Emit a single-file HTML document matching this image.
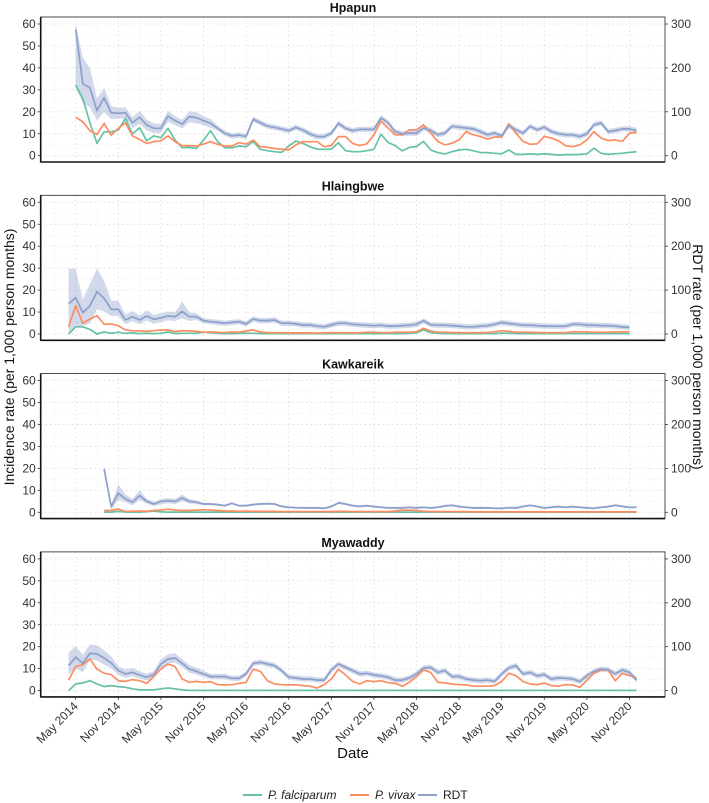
<!DOCTYPE html>
<html><head><meta charset="utf-8"><style>
html,body{margin:0;padding:0;background:#fff;}
svg{display:block;font-family:"Liberation Sans",Arial,sans-serif;}
</style></head><body>
<svg id="chart" width="709" height="803" viewBox="0 0 709 803" xmlns="http://www.w3.org/2000/svg"></svg>
<script>
// ---- data ----
const panelNames = ["Hpapun","Hlaingbwe","Kawkareik","Myawaddy"];
const xTickLabels = ["May 2014","Nov 2014","May 2015","Nov 2015","May 2016","Nov 2016","May 2017","Nov 2017","May 2018","Nov 2018","May 2019","Nov 2019","May 2020","Nov 2020"];
const yTickLeft = [0,10,20,30,40,50,60];
const yTickRight = [0,100,200,300];
// start month index (months since Jan 2014)
const panelStart = [4,3,8,3];
// Hpapun
const hpRdt = [57.6,32.7,31,20.5,26.4,19.6,19.3,19.6,15,17.5,14,12.5,12.5,18,16,14.4,17.8,17.3,16,14.7,12.5,10.2,9,9.4,8.7,16.6,15,13.5,12.9,12.2,11.4,12.9,11.7,9.9,8.7,8.7,10.2,14.7,12.5,11.4,
 12,12,12,17.2,15,11,10,10.3,10.3,12.6,11.5,9.5,10.3,13.4,13,12.6,12.2,11,9.5,10.3,9,13.7,11.8,10.3,13.4,11.8,13,11,10,9.5,9.5,8.7,10,14.1,14.9,11,11.5,12.2,12.2,11.5];
const hpViv = [17.5,15.5,11.4,9.7,14.7,9.4,12.5,15,9,7.4,5.6,6.4,6.8,9,6.4,4.6,4.6,4.4,5.3,6.4,5.2,4.4,4.4,5.9,5.3,7.1,4.1,3.8,3.3,3,2.6,4.9,6.4,6.4,6.4,4.1,4.6,8.7,8.7,5.6,
 4.6,5.4,9.5,15.7,12.6,9.5,9.5,11.8,11.8,14.1,10.3,6.5,4.9,5.7,7.2,11,9.5,8.8,7.5,8.5,8.5,14.6,10.3,6.5,5.2,5.4,8.8,8,6.8,4.5,4.2,4.9,7.2,11,8,6.9,7.2,6.5,10.3,10.6];
const hpFal = [32.2,26.1,15,5.6,10.9,10.9,11.7,17,9.9,12.8,6.8,9,8.2,12.5,7.1,3.6,3.8,3.3,7.1,11.4,6.4,3.6,3.6,4.4,4.1,6.4,2.9,2.3,1.8,1.5,4.4,6.7,5.6,4.1,3,2.9,3,5.9,2.3,1.8,
 1.8,2.3,2.9,9.8,6,4.6,2.2,3.8,4.2,6.5,2.6,1.4,0.8,1.8,2.6,2.9,2.3,1.4,1.4,1.1,0.8,2.6,0.6,0.6,0.8,0.6,0.8,0.6,0.3,0.5,0.5,0.6,0.8,3.4,1.1,0.6,0.9,1.1,1.5,1.8];
const hpBandUp = [2.5,12,9,5.5,4.5,3,2.5,2.5,2.5,3,2.5,2.2,2,2.5,2,2,2.5,2.5,2,2];
const hpBandDn = [27,8.7,9,4.5,6.4,3,2.5,2.5,2.5,3,2.5,2.2,2,2.5,2,2,2.5,2.5,2,2];
// Hlaingbwe
const hbRdt = [13.7,16.6,9.7,12.8,19.3,16.3,11.2,11.2,6.4,7.9,6.4,8.2,6.7,7.4,8.2,7.9,10.2,7.9,7.9,6.1,5.6,5.3,4.9,5.3,5.6,4.6,6.8,6.1,6.1,6.4,4.9,4.9,4.6,4.1,4.1,3.6,3.3,4.1,4.9,4.9,4.4,
 4.2,4,3.8,4,3.6,3.6,3.8,4,4.4,6,4.2,4,4,3.8,3.6,3.3,3.3,3.6,3.8,4.4,5.2,4.8,4.4,4,4,3.8,3.6,3.6,3.5,3.6,4.4,4.4,4,4,3.8,3.8,3.6,3.2,3];
const hbViv = [3.3,12.9,4.9,6.8,8.4,4.4,4.6,3.8,1.8,1.5,1.4,1.2,1.5,1.8,1.8,1.1,1.5,1.4,1.2,0.8,0.9,0.8,0.6,0.9,0.8,1.4,1.8,0.9,0.6,0.6,0.5,0.5,0.5,0.5,0.5,0.4,0.5,0.6,0.6,0.5,0.5,
 0.6,0.8,0.8,0.6,0.6,0.8,0.8,0.8,1,2.6,1.4,0.8,0.8,0.7,0.6,0.6,0.6,0.6,0.7,1,1.5,1.2,0.8,0.8,0.8,0.7,0.6,0.6,0.6,0.6,1,1,0.9,0.8,0.8,0.8,0.9,1,1];
const hbFal = [0,3.3,3.3,2.1,0,0.9,0.3,0.8,0.3,0.5,0.2,0.3,0.2,0.3,0.9,0.2,0.3,0.3,0.3,0.8,0.6,0.3,0.2,0.2,0.3,0.4,0.3,0.2,0.2,0.2,0.2,0.2,0.2,0.2,0.2,0.2,0.2,0.2,0.2,0.2,0.2,
 0.2,0.2,0.2,0.2,0.2,0.2,0.2,0.3,0.5,1.8,0.6,0.3,0.2,0.2,0.2,0.2,0.2,0.2,0.2,0.2,0.4,0.3,0.2,0.2,0.2,0.2,0.2,0.2,0.2,0.2,0.2,0.2,0.2,0.2,0.2,0.2,0.2,0.2,0.2];
const hbBandUp = [16,13,6,10,10.5,8,4,4,2.5,2.5,2,2.5,2,2,2,2,4.5,2,1.5,1.2];
const hbBandDn = [13,13,6,8,8,6,3,3,2,2,2,2,2,2,2,2,3,2,1.5,1.2];
// Kawkareik
const kkRdt = [19.8,2.6,8.7,6.1,4.6,7.6,5,3.8,4.9,5.3,4.9,6.5,5,4.6,3.8,3.8,3.5,3,4.1,3,3,3.5,3.8,3.9,3.8,2.7,2.3,2.1,2,2,2,1.8,2.6,4.3,3.8,3,2.7,
 3,2.6,2.3,2,2,2,2.3,2,2.3,2,2.3,2.9,3.2,2.6,2.3,2,2,2,1.8,1.8,2.1,2,2.6,3.2,2.6,2,2.3,2.6,2.3,2.6,2.3,2,1.8,2.3,2.6,3.2,2.7,2.3,2.3];
const kkViv = [0.8,0.8,1.5,0.3,0.5,0.6,0.5,0.8,1,1.4,1,0.8,0.8,1,1.2,1,0.8,0.6,0.6,0.5,0.5,0.4,0.4,0.4,0.4,0.3,0.3,0.3,0.3,0.3,0.3,0.3,0.3,0.4,0.4,0.3,0.3,
 0.3,0.3,0.3,0.3,0.6,1,1,0.8,0.5,0.3,0.3,0.3,0.3,0.3,0.3,0.2,0.2,0.2,0.2,0.2,0.2,0.2,0.2,0.2,0.2,0.2,0.2,0.2,0.2,0.2,0.2,0.2,0.2,0.2,0.2,0.2,0.2,0.2,0.2];
const kkFal = [0.1,0.1,0.4,0.1,0.1,0.1,0.3,0.6,0.2,0.1,0.1,0.1,0.1,0.1,0.1,0.1,0.1,0.1,0.1,0.1,0.1,0.1,0.1,0.1,0.1,0.1,0.1,0.1,0.1,0.1,0.1,0.1,0.1,0.1,0.1,0.1,0.1,
 0.1,0.1,0.1,0.1,0.1,0.1,0.1,0.1,0.1,0.1,0.1,0.1,0.1,0.1,0.1,0.1,0.1,0.1,0.1,0.1,0.1,0.1,0.1,0.1,0.1,0.1,0.1,0.1,0.1,0.1,0.1,0.1,0.1,0.1,0.1,0.1,0.1,0.1,0.1];
const kkBandUp = [0.5,1,4,2,1.5,2.5,1.2,1,1.2,1.2,1.2,1.5,1,0.8];
const kkBandDn = [0.5,1.5,3,1.5,1.5,2,1,1,1.2,1.2,1.2,1.5,1,0.8];
// Myawaddy
const mwRdt = [11.4,15.2,12.4,17,16.7,14.8,12.6,9.1,7.6,8.3,7.1,6.1,7.3,12.1,14.4,14.8,12.4,9.8,8.8,7.6,6.4,6.4,6.4,5.6,5.6,7.6,12.4,12.9,12.1,11.4,9.1,6.1,5.8,5.3,5.3,4.8,4.8,9.4,12.1,10.6,9.1,7.6,
 7.9,7.1,6.7,6.1,4.8,4.8,5.8,7.6,10.3,10.6,8.3,9.1,6.4,6.5,5.3,4.8,4.5,4.8,4.2,7.6,10.3,11.4,7.6,8.3,6.7,7.3,5.3,5.8,5.6,5.3,4.1,6.8,8.8,9.8,9.5,7.6,9.4,8.3,4.8];
const mwViv = [4.8,10.9,11.8,14.4,9.8,7.9,7.3,4.5,4.2,5,4.5,3.3,6.4,9.8,12.1,10.9,5.3,3.8,4.2,3.8,4.1,2.7,2.6,2.7,3.3,3.8,9.8,8.8,4.5,3,2.7,2.6,2.6,2.3,2,1.2,2.7,5.3,9.8,7.1,4.2,3,
 4.5,4.1,4.5,3.6,3.3,2,3.8,6.4,9.4,8.3,3.8,3.5,3,2.7,2.6,2,2,2,2.3,4.2,7.9,6.8,4.2,3,2.7,3.5,2.3,2,2.7,2.6,1.5,4.8,7.9,9.4,9.4,4.5,7.9,6.8,5.8];
const mwFal = [0,3,3.5,4.5,3,1.8,2.3,1.8,1.5,0.8,0.3,0.3,0.3,0.8,1.2,0.8,0.3,0.1,0.1,0.1,0.1,0.1,0.1,0.1,0.1,0.1,0.1,0.1,0.1,0.1,0.1,0.1,0.1,0.1,0.1,0.1,0.1,0.1,0.1,0.1,0.1,0.1,
 0.1,0.1,0.1,0.1,0.1,0.1,0.1,0.1,0.1,0.1,0.1,0.1,0.1,0.1,0.1,0.1,0.1,0.1,0.1,0.1,0.1,0.1,0.1,0.1,0.1,0.1,0.1,0.1,0.1,0.1,0.1,0.1,0.1,0.1,0.1,0.1,0.1,0.1,0.1];
const mwBandUp = [6,5,4,4,4,3.5,3,2,2,2,1.8,1.6,1.6,2.2,2.2,2.2,2,1.8,1.6,1.5];
const mwBandDn = [4,5,4,3,3,3,2.5,2,1.8,1.8,1.6,1.5,1.5,2,2,2,1.8,1.6,1.5,1.4];

const panels = [
 {rdt:hpRdt,viv:hpViv,fal:hpFal,up:hpBandUp,dn:hpBandDn},
 {rdt:hbRdt,viv:hbViv,fal:hbFal,up:hbBandUp,dn:hbBandDn},
 {rdt:kkRdt,viv:kkViv,fal:kkFal,up:kkBandUp,dn:kkBandDn},
 {rdt:mwRdt,viv:mwViv,fal:mwFal,up:mwBandUp,dn:mwBandDn}
];

// ---- layout ----
const NS="http://www.w3.org/2000/svg";
const svg=document.getElementById('chart');
const PL=40.7, PR=665, PANEL_DY=178.3;
const xOf = m => 75.7 + (m-4)*7.1;
const yOf = (v,p) => 155.7 + p*PANEL_DY - v*(131.7/60);
const COL={fal:"#66c2a5",viv:"#fc8d62",rdt:"#8da0cb"};
function mk(tag,attrs,parent){const e=document.createElementNS(NS,tag);for(const k in attrs)e.setAttribute(k,attrs[k]);(parent||svg).appendChild(e);return e;}

panels.forEach((pd,p)=>{
  const top=17+p*PANEL_DY, bot=162+p*PANEL_DY;
  const g=mk('g',{});
  
  
  const t=mk('text',{x:353,y:top-5,'text-anchor':'middle','font-size':12.5,'font-weight':'bold',fill:'#111'},g);
  t.textContent=panelNames[p];
  
  
  for(let v=0;v<=60;v+=5){
    const y=yOf(v,p);
    mk('line',{x1:PL,x2:PR,y1:y,y2:y,stroke:v%10===0?'#dcdcdc':'#ececec','stroke-width':v%10===0?0.9:0.7,'stroke-dasharray':'1.5,3'},g);
  }
  for(let m=1;m<=85;m+=3){
    const x=xOf(m); if(x<=PL||x>=PR)continue;
    const major=((m-4)%6===0);
    mk('line',{x1:x,x2:x,y1:top,y2:bot,stroke:major?'#dcdcdc':'#ececec','stroke-width':major?0.9:0.7,'stroke-dasharray':'1.5,3'},g);
  }
  const s=panelStart[p];
  let upper=[],lower=[];
  pd.rdt.forEach((v,i)=>{
    const u = i<pd.up.length?pd.up[i]:(p===2?0.5:1.2);
    const d = i<pd.dn.length?pd.dn[i]:(p===2?0.5:1.2);
    upper.push(xOf(s+i).toFixed(1)+','+yOf(v+u,p).toFixed(1));
    lower.unshift(xOf(s+i).toFixed(1)+','+yOf(Math.max(0,v-d),p).toFixed(1));
  });
  const band=mk('polygon',{points:upper.concat(lower).join(' '),fill:COL.rdt,'fill-opacity':0.4},g);
  
  
  [['fal',pd.fal],['viv',pd.viv],['rdt',pd.rdt]].forEach(([k,arr])=>{
    const pts=arr.map((v,i)=>xOf(s+i).toFixed(1)+','+yOf(v,p).toFixed(1)).join(' ');
    const l=mk('polyline',{points:pts,fill:'none',stroke:COL[k],'stroke-width':1.7,'stroke-linejoin':'round'},g);
    
    
  });
  mk('rect',{x:PL,y:top,width:PR-PL,height:bot-top,fill:'none',stroke:'#222','stroke-width':0.8},g);
  mk('line',{x1:PL,x2:PL,y1:top,y2:bot+0.5,stroke:'#111','stroke-width':1.6},g);
  mk('line',{x1:PL,x2:PR,y1:bot,y2:bot,stroke:'#111','stroke-width':1.6},g);
  yTickLeft.forEach(v=>{
    const y=yOf(v,p);
    mk('line',{x1:PL-3,x2:PL,y1:y,y2:y,stroke:'#333','stroke-width':0.8},g);
    const tt=mk('text',{x:PL-5,y:y+4,'text-anchor':'end','font-size':12,fill:'#333'},g);
    tt.textContent=v;
    
    
  });
  yTickRight.forEach(v=>{
    const y=yOf(v/5,p);
    mk('line',{x1:PR,x2:PR+3,y1:y,y2:y,stroke:'#333','stroke-width':0.8},g);
    const tt=mk('text',{x:PR+6,y:y+4,'text-anchor':'start','font-size':12,fill:'#333'},g);
    tt.textContent=v;
    
    
  });
  if(p===3){
    xTickLabels.forEach((lab,i)=>{
      const x=xOf(4+i*6);
      mk('line',{x1:x,x2:x,y1:bot,y2:bot+3,stroke:'#333','stroke-width':0.8},g);
      const tt=mk('text',{x:x+3,y:bot+10,'text-anchor':'end','font-size':12,fill:'#333',transform:`rotate(-45 ${x+3} ${bot+10})`},g);
      tt.textContent=lab;
      
      
    });
  }
});
</script>
<div style="position:absolute;left:0;top:0;width:709px;height:803px;pointer-events:none;">
<svg width="709" height="803" style="position:absolute;left:0;top:0;font-family:'Liberation Sans',Arial,sans-serif;">
  <text x="353" y="758" text-anchor="middle" font-size="15" fill="#111">Date</text>
  <text x="0" y="0" transform="translate(14,357) rotate(-90)" text-anchor="middle" font-size="14" fill="#111">Incidence rate (per 1,000 person months)</text>
  <text x="0" y="0" transform="translate(693,357) rotate(90)" text-anchor="middle" font-size="14" fill="#111">RDT rate (per 1,000 person months)</text>
  <g font-size="12" fill="#222">
    <line x1="243" x2="262" y1="795" y2="795" stroke="#66c2a5" stroke-width="2"/>
    <text x="268" y="799" font-style="italic">P. falciparum</text>
    <line x1="350" x2="369" y1="795" y2="795" stroke="#fc8d62" stroke-width="2"/>
    <text x="375" y="799" font-style="italic">P. vivax</text>
    <line x1="418" x2="437" y1="795" y2="795" stroke="#8da0cb" stroke-width="2"/>
    <text x="443" y="799">RDT</text>
  </g>
</svg>
</div>
</body></html>
